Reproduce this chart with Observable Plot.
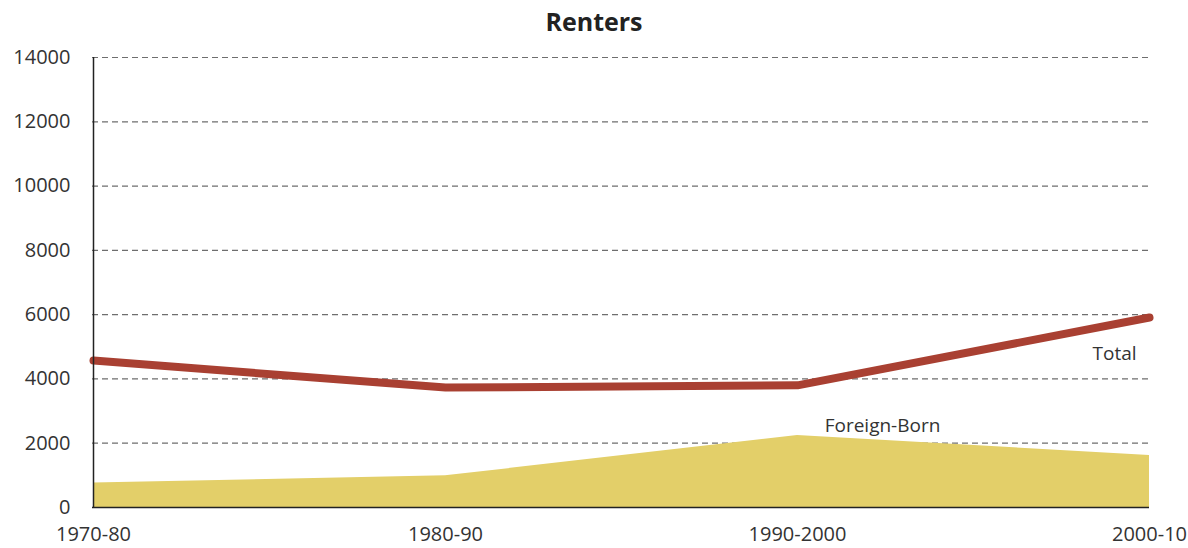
<!DOCTYPE html>
<html>
<head>
<meta charset="utf-8">
<script src="https://cdn.jsdelivr.net/npm/d3@7"></script>
<script src="https://cdn.jsdelivr.net/npm/@observablehq/plot@0.6"></script>
<style>
  body { margin: 0; background: #fff; }
  #title { height: 40px; line-height: 42px; text-align: center; font-family: "Open Sans", sans-serif; font-weight: 700; font-size: 25px; color: #222; }
</style>
</head>
<body>
<div id="title">Renters</div>
<div id="chart"></div>
<script>
const periods = ["1970-80", "1980-90", "1990-2000", "2000-10"];
const totalValues = [4570, 3730, 3800, 5910];
const foreignBornValues = [765, 985, 2240, 1620];
const yTicks = [0, 2000, 4000, 6000, 8000, 10000, 12000, 14000];
const totalLabel = [{period: "2000-10", value: 4770, text: "Total"}];
const foreignLabel = [{period: "1990-2000", value: 2530, text: "Foreign-Born"}];

const total = periods.map((p, i) => ({period: p, value: totalValues[i]}));
const foreign = periods.map((p, i) => ({period: p, value: foreignBornValues[i]}));

const chart = Plot.plot({
  width: 1188,
  height: 508,
  marginTop: 17,
  marginBottom: 41,
  marginLeft: 92,
  marginRight: 39,
  style: {fontFamily: "'Open Sans', sans-serif", fontSize: "20px", color: "#333", background: "#fff"},
  x: {type: "point", domain: periods, padding: 0},
  y: {domain: [0, 14000]},
  marks: [
    Plot.gridY(yTicks.filter(d => d > 0), {stroke: "#6e6e6e", strokeOpacity: 1, strokeWidth: 1.2, strokeDasharray: "6,4"}),
    Plot.areaY(foreign, {x: "period", y: "value", fill: "#e3cf69"}),
    Plot.lineY(total, {x: "period", y: "value", stroke: "#a94032", strokeWidth: 8, strokeLinecap: "round", strokeLinejoin: "miter"}),
    Plot.ruleY([0], {stroke: "#222", strokeWidth: 1.5}),
    Plot.ruleX([periods[0]], {stroke: "#222", strokeWidth: 1.5, y1: 0, y2: 14000}),
    Plot.axisY({ticks: yTicks, tickSize: 0, tickPadding: 22, label: null, tickFormat: d => String(d), fontSize: 20}),
    Plot.axisX({tickSize: 0, tickPadding: 19, label: null, fontSize: 20}),
    Plot.text(totalLabel, {x: "period", y: "value", text: "text", dx: -35, fontSize: 19, fill: "#333"}),
    Plot.text(foreignLabel, {x: "period", y: "value", text: "text", dx: 85, fontSize: 19, fill: "#333"})
  ]
});
document.getElementById("chart").appendChild(chart);
</script>
</body>
</html>
